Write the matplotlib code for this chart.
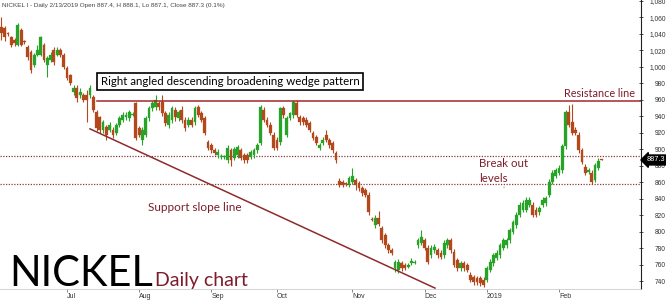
import matplotlib
matplotlib.use("Agg")
import matplotlib.pyplot as plt
import pandas as pd

# Daily OHLC for nickel, June 2018 - February 2019
open_ = [1048, 1047, 1041, 1036, 1033, 1027, 1045, 1031, 1024, 1018,
         1002, 1015, 1015, 1027, 1002, 1009, 1021, 1015, 1021, 1015,
         999, 990, 970, 975, 966, 966, 966, 966, 964, 945,
         939, 924, 927, 924, 924, 920, 930, 936, 939, 938,
         942, 956, 926, 912, 918, 938, 950, 951, 956, 958,
         944, 930, 936, 948, 938, 948, 936, 930, 936, 933,
         951, 944, 938, 909, 905, 899, 893, 891, 891, 887,
         899, 890, 893, 899, 893, 893, 891, 893, 899, 908,
         948, 936, 930, 918, 912, 909, 950, 918, 938, 942,
         956, 939, 938, 936, 932, 920, 915, 902, 908, 918,
         912, 908, 896, 862, 861, 859, 857, 861, 863, 859,
         853, 851, 845, 816, 808, 817, 805, 796, 784, 778,
         756, 754, 762, 760, 758, 762, 763, 784, 787, 790,
         781, 772, 778, 778, 775, 772, 784, 790, 776, 766,
         756, 762, 760, 748, 745, 744, 744, 742, 742, 754,
         762, 769, 772, 781, 784, 790, 800, 808, 821, 827,
         827, 833, 833, 827, 824, 833, 835, 845, 861, 868,
         872, 875, 904, 945, 933, 924, 918, 899, 879, 873,
         872, 863, 878, 887.4]
high = [1060, 1050, 1043, 1038, 1035, 1053, 1047, 1033, 1027, 1020,
        1017, 1027, 1038, 1029, 1013, 1018, 1024, 1024, 1023, 1017,
        1001, 992, 978, 978, 975, 968, 972, 978, 966, 948,
        941, 936, 930, 933, 927, 932, 941, 945, 945, 948,
        945, 958, 929, 927, 941, 953, 959, 966, 959, 966,
        947, 945, 953, 951, 948, 953, 939, 939, 939, 953,
        954, 947, 941, 912, 908, 902, 900, 894, 893, 905,
        902, 903, 905, 902, 896, 896, 899, 902, 908, 954,
        951, 939, 933, 921, 915, 952, 953, 941, 946, 960,
        960, 942, 941, 939, 935, 923, 918, 908, 915, 924,
        914, 910, 898, 865, 863, 861, 868, 878, 866, 862,
        856, 853, 848, 818, 820, 825, 807, 799, 787, 781,
        766, 767, 765, 762, 762, 768, 766, 793, 802, 793,
        784, 784, 785, 781, 778, 790, 793, 793, 779, 769,
        765, 765, 763, 751, 748, 747, 747, 745, 759, 767,
        775, 778, 787, 793, 793, 805, 815, 824, 836, 839,
        842, 842, 836, 830, 832, 842, 844, 864, 875, 878,
        881, 907, 948, 954, 955, 927, 921, 902, 882, 878,
        875, 884, 890, 888.1]
low = [1033, 1032, 1038, 1024, 1025, 1025, 1025, 1028, 1009, 993,
       1000, 1013, 1013, 1006, 988, 1006, 1003, 1013, 1012, 997,
       984, 978, 966, 958, 963, 957, 933, 963, 945, 922,
       920, 920, 912, 921, 914, 917, 927, 933, 936, 935,
       940, 911, 915, 905, 915, 935, 947, 948, 948, 941,
       928, 926, 932, 935, 935, 932, 923, 927, 927, 930,
       939, 933, 917, 899, 896, 893, 890, 889, 888, 884,
       880, 887, 890, 887, 884, 884, 888, 890, 896, 905,
       933, 927, 917, 899, 899, 906, 938, 915, 936, 938,
       939, 930, 930, 927, 921, 911, 905, 899, 905, 909,
       902, 896, 884, 854, 855, 856, 854, 858, 851, 850,
       844, 842, 821, 813, 805, 807, 787, 781, 775, 772,
       752, 750, 753, 754, 756, 760, 761, 781, 784, 778,
       761, 769, 775, 769, 767, 769, 781, 775, 757, 753,
       753, 753, 751, 739, 736, 736, 735, 733, 739, 751,
       759, 766, 769, 778, 781, 787, 797, 805, 818, 824,
       824, 830, 818, 818, 821, 830, 832, 842, 858, 865,
       869, 872, 901, 927, 917, 917, 896, 882, 869, 870,
       858, 860, 875, 887.1]
close = [1041, 1036, 1040, 1027, 1029, 1051, 1027, 1030, 1012, 996,
         1015, 1021, 1036, 1009, 1011, 1015, 1006, 1021, 1015, 1000,
         987, 981, 975, 962, 970, 960, 960, 975, 948, 926,
         924, 933, 918, 930, 918, 930, 938, 942, 942, 945,
         943, 914, 918, 924, 938, 950, 956, 960, 951, 944,
         932, 942, 950, 939, 945, 936, 926, 936, 930, 950,
         942, 936, 920, 902, 899, 896, 897, 892, 892, 902,
         887, 901, 903, 890, 887, 887, 897, 899, 905, 951,
         936, 930, 920, 902, 902, 950, 942, 938, 944, 958,
         942, 933, 933, 930, 924, 914, 908, 905, 912, 912,
         905, 899, 887, 857, 857, 858, 865, 868, 857, 853,
         847, 845, 824, 815, 817, 810, 790, 784, 778, 775,
         764, 764, 756, 756, 760, 765, 764, 790, 794, 781,
         764, 781, 782, 772, 770, 787, 790, 778, 760, 756,
         762, 756, 754, 742, 739, 739, 738, 736, 756, 764,
         772, 775, 784, 790, 790, 802, 812, 821, 833, 835,
         839, 839, 821, 821, 829, 839, 841, 861, 872, 875,
         878, 904, 945, 930, 920, 920, 899, 885, 872, 875,
         861, 881, 886, 887.3]

resistance = 959.0
breakout_upper = 892.0
breakout_lower = 858.5
support_start = (27.0, 925.0)
support_end = (132.2, 732.0)
price_ticks = list(range(740, 1081, 20))
last_price = close[-1]

exchange_holidays = ["2018-08-27", "2018-12-25", "2018-12-26", "2019-01-01"]
bday = pd.offsets.CustomBusinessDay(holidays=exchange_holidays)
dates = pd.date_range("2018-06-04", periods=len(close), freq=bday)

UP = "#27a327"
DOWN = "#b4481d"
MAROON = "#7d1d2c"
LINE_RED = "#a3282b"

W, H = 666, 300
fig = plt.figure(figsize=(W / 100, H / 100), dpi=100)
fig.patch.set_facecolor("white")


def fpos(x, y):
    return x / W, 1 - y / H


ax = fig.add_axes([0, 1 - 289 / H, 641 / W, 289 / H])
ax.set_facecolor("white")

# candlesticks
for i, (o, h, l, c) in enumerate(zip(open_, high, low, close)):
    col = UP if c >= o else DOWN
    ax.vlines(i, l, h, color=col, lw=0.8, zorder=2)
    body = max(abs(c - o), 1.0)
    ax.bar(i, body, bottom=min(o, c), width=0.86, color=col,
           edgecolor=col, lw=0.2, zorder=3)

ax.set_xlim(-0.43, 195.0)
ax.set_ylim(730.9, 1081.2)

# pattern lines
ax.plot([29.1, 195.0], [resistance, resistance], color=LINE_RED, lw=1.1, zorder=4)
ax.plot([support_start[0], support_end[0]], [support_start[1], support_end[1]],
        color="#8e2b2b", lw=1.1, zorder=4)
for lvl in (breakout_upper, breakout_lower):
    ax.axhline(lvl, color="#8a3b3b", lw=0.9, ls=(0, (1, 1.2)), zorder=1)

# x axis: first trading day of each month
month_idx, month_lbl = [], []
for i in range(1, len(dates)):
    if dates[i].month != dates[i - 1].month:
        month_idx.append(i)
        month_lbl.append("2019" if dates[i].month == 1 else dates[i].strftime("%b"))
ax.set_xticks(month_idx)
ax.set_xticklabels(month_lbl, fontsize=5, family="Liberation Sans", color="#333333",
                   ha="left")
ax.tick_params(axis="x", length=2, width=0.5, color="#555555", pad=1)

# y axis on the right, labels right-aligned to the figure edge
ax.yaxis.tick_right()
ax.set_yticks(price_ticks)
ax.set_yticklabels([f"{v:,}" for v in price_ticks], fontsize=4.8,
                   family="Liberation Sans", color="#333333")
for lab in ax.get_yticklabels():
    lab.set_horizontalalignment("right")
ax.tick_params(axis="y", direction="inout", length=3, width=0.6, color="#333333",
               pad=16.4)

for side in ("top", "left"):
    ax.spines[side].set_visible(False)
ax.spines["right"].set_color("#222222")
ax.spines["right"].set_linewidth(0.8)
ax.spines["bottom"].set_color("#cccccc")
ax.spines["bottom"].set_linewidth(0.6)

# last price tag
ax.annotate(f"{last_price:.1f}", xy=(1.0, last_price), xycoords=("axes fraction", "data"),
            xytext=(3.8, 0), textcoords="offset points", fontsize=5.3,
            family="Liberation Sans", color="white", va="center", ha="left",
            bbox=dict(boxstyle="larrow,pad=0.2", fc="black", ec="black"),
            annotation_clip=False, zorder=6)

# header line
fig.text(*fpos(2, 5), "NICKEL I - Daily 2/13/2019 Open 887.4, H 888.1, Lo 887.1, Close 887.3 (0.1%)",
         fontsize=4.6, family="Liberation Sans", color="#444444", va="center", ha="left")

# annotations
fig.text(*fpos(230, 81.5), "Right angled descending broadening wedge pattern",
         fontsize=8.3, family="Lato", color="black", ha="center", va="center",
         bbox=dict(boxstyle="square,pad=0.3", fc="white", ec="black", lw=1.2))
fig.text(*fpos(635, 97), "Resistance line", fontsize=7.8, family="Lato",
         color=MAROON, ha="right", va="baseline")
fig.text(*fpos(479, 167), "Break out", fontsize=8.3, family="Lato",
         color=MAROON, ha="left", va="baseline")
fig.text(*fpos(479, 182), "levels", fontsize=8.3, family="Lato",
         color=MAROON, ha="left", va="baseline")
fig.text(*fpos(504, 189), "\u201d", fontsize=4, family="Lato", color="#777777",
         ha="center", va="center")
fig.text(*fpos(148, 211), "Support slope line", fontsize=8.5, family="Lato",
         color=MAROON, ha="left", va="baseline")
fig.text(*fpos(9, 286), "NICKEL", fontsize=30, family="Lato", color="black",
         ha="left", va="baseline")
fig.text(*fpos(155, 286), "Daily chart", fontsize=14, family="Lato", color=MAROON,
         ha="left", va="baseline")

fig.savefig("out.png", dpi=100, facecolor="white")
